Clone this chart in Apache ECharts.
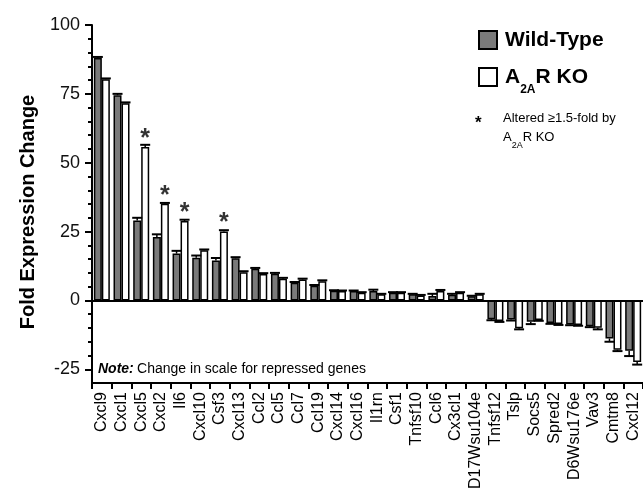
<!DOCTYPE html>
<html>
<head>
<meta charset="utf-8">
<script src="https://cdn.jsdelivr.net/npm/echarts@6/dist/echarts.min.js"></script>
<style>
  html, body { margin: 0; padding: 0; background: #fff; }
  #chart { width: 643px; height: 492px; }
</style>
</head>
<body>
<div id="chart"></div>
<script>
// gene categories, left to right
const categories = ['Cxcl9', 'Cxcl1', 'Cxcl5', 'Cxcl2', 'Il6', 'Cxcl10', 'Csf3', 'Cxcl13', 'Ccl2', 'Ccl5',
  'Ccl7', 'Ccl19', 'Cxcl14', 'Cxcl16', 'Il1rn', 'Csf1', 'Tnfsf10', 'Ccl6', 'Cx3cl1', 'D17Wsu104e',
  'Tnfsf12', 'Tslp', 'Socs5', 'Spred2', 'D6Wsu176e', 'Vav3', 'Cmtm8', 'Cxcl12']

// fold expression change
const wildType = [88, 74.5, 29, 23, 17, 15.5, 14.5, 15.3, 11.5, 9.7,
  6.4, 5.3, 3.5, 3.4, 3.4, 2.8, 2.2, 1.6, 2.1, 1.5,
  -6.8, -6.9, -7.7, -8.2, -8.7, -9.4, -13.8, -18.3]
const knockout = [80.3, 71.6, 55.7, 35.1, 28.8, 18.2, 25, 10.2, 9.6, 7.9,
  7.6, 7.0, 3.4, 2.8, 2.2, 2.8, 1.8, 3.4, 2.8, 2.2,
  -7.5, -10.1, -7.1, -8.6, -8.9, -9.9, -17.9, -22.4]

// error (one side)
const wildTypeErr = [0.4, 0.5, 1, 1, 1, 0.8, 0.9, 0.4, 0.3, 0.3,
  0.3, 0.3, 0.2, 0.2, 0.5, 0.2, 0.2, 0.8, 0.3, 0.2,
  0.4, 0.4, 0.9, 0.3, 0.3, 0.3, 1.2, 1.9]
const knockoutErr = [0.3, 0.3, 0.8, 0.3, 0.5, 0.3, 0.5, 0.4, 0.3, 0.3,
  0.3, 0.3, 0.2, 0.2, 0.2, 0.2, 0.2, 0.4, 0.2, 0.2,
  0.3, 0.4, 0.3, 0.3, 0.3, 0.6, 0.5, 0.9]

// altered >= 1.5 fold by KO
const altered = ['Cxcl5', 'Cxcl2', 'Il6', 'Csf3']

const majorTicks = [-25, 0, 25, 50, 75, 100]
const minorTicks = [-20, -15, -10, -5, 5, 10, 15, 20, 30, 35, 40, 45, 55, 60, 65, 70, 80, 85, 90, 95]

const BAR_W = 8
const FONT = 'Liberation Sans, Arial, sans-serif'

const chart = echarts.init(document.getElementById('chart'))

function errData(vals, errs, side) {
  return vals.map((v, i) => [i, v, errs[i], side])
}

function renderErr(params, api) {
  const v = api.value(1)
  const e = api.value(2)
  const side = api.value(3)
  const dir = v < 0 ? -1 : 1
  const base = api.coord([api.value(0), v])
  const tip = api.coord([api.value(0), v + dir * e])
  const x = base[0] + side * BAR_W / 2
  return {
    type: 'group',
    children: [
      { type: 'line', shape: { x1: x, y1: base[1], x2: x, y2: tip[1] }, style: { stroke: '#000', lineWidth: 1.5 } },
      { type: 'line', shape: { x1: x - 5, y1: tip[1], x2: x + 5, y2: tip[1] }, style: { stroke: '#000', lineWidth: 2 } }
    ]
  }
}

// subscript: main tokens and the small token share the line, the small one sits lower
const legendRich = {
  m: { fontSize: 21, fontWeight: 'bold', color: '#000', fontFamily: FONT, lineHeight: 28, height: 28, verticalAlign: 'bottom' },
  s: { fontSize: 12, fontWeight: 'bold', color: '#000', fontFamily: FONT, lineHeight: 28, height: 2, verticalAlign: 'bottom' }
}

const option = {
  animation: false,
  backgroundColor: '#fff',
  textStyle: { fontFamily: FONT },
  grid: { left: 92, top: 25, width: 552, bottom: 108 },
  legend: {
    orient: 'vertical',
    left: 473,
    top: 21,
    icon: 'rect',
    itemWidth: 18,
    itemHeight: 18,
    itemGap: 9,
    data: ['Wild-Type', 'A2AR KO'],
    formatter: name => name === 'A2AR KO' ? '{m|A}{s|2A}{m|R KO}' : '{m|Wild-Type}',
    textStyle: {
      padding: [0, 0, 0, 3],
      rich: legendRich
    }
  },
  xAxis: {
    type: 'category',
    data: categories,
    axisLine: { onZero: false, lineStyle: { color: '#000', width: 2 } },
    axisTick: { show: true, length: 6, lineStyle: { color: '#000', width: 2 } },
    axisLabel: { interval: 0, rotate: 90, margin: 9, fontSize: 16, color: '#000', fontFamily: FONT },
    splitLine: { show: false }
  },
  yAxis: [{
    type: 'value',
    min: -30,
    max: 100,
    axisLine: { show: true, lineStyle: { color: '#000', width: 2 } },
    axisTick: { show: true, length: 7, customValues: majorTicks, lineStyle: { color: '#000', width: 2 } },
    axisLabel: { customValues: majorTicks, fontSize: 18, color: '#111', margin: 12, fontFamily: FONT },
    splitLine: { show: false }
  }, {
    type: 'value',
    min: -30,
    max: 100,
    position: 'left',
    axisLine: { show: false },
    axisTick: { show: true, length: 4, customValues: minorTicks, lineStyle: { color: '#000', width: 2 } },
    axisLabel: { show: false },
    splitLine: { show: false }
  }],
  series: [{
    name: 'Wild-Type',
    type: 'bar',
    data: wildType,
    barWidth: BAR_W,
    barGap: '0%',
    itemStyle: { color: '#7a7a7a', borderColor: '#000', borderWidth: 1.5 },
    markLine: {
      silent: true,
      symbol: 'none',
      label: { show: false },
      lineStyle: { color: '#000', width: 2, type: 'solid' },
      data: [{ yAxis: 0 }]
    }
  }, {
    name: 'A2AR KO',
    type: 'bar',
    data: knockout,
    barWidth: BAR_W,
    barGap: '0%',
    itemStyle: { color: '#fff', borderColor: '#000', borderWidth: 1.5 }
  }, {
    type: 'custom',
    renderItem: renderErr,
    data: errData(wildType, wildTypeErr, -1),
    z: 3
  }, {
    type: 'custom',
    renderItem: renderErr,
    data: errData(knockout, knockoutErr, 1),
    z: 3
  }, {
    type: 'scatter',
    symbolSize: 0,
    data: altered.map(c => [c, knockout[categories.indexOf(c)]]),
    label: {
      show: true,
      position: 'inside',
      offset: [BAR_W / 2, -8],
      formatter: '*',
      fontSize: 25,
      fontWeight: 'bold',
      color: '#000',
      fontFamily: FONT
    },
    z: 4
  }],
  graphic: [{
    type: 'text',
    x: 28,
    y: 212,
    rotation: Math.PI / 2,
    style: {
      text: 'Fold Expression Change',
      font: 'bold 20px ' + FONT,
      fill: '#000',
      align: 'center',
      verticalAlign: 'middle'
    }
  }, {
    type: 'text',
    x: 98,
    y: 369,
    style: {
      text: '{b|Note:} {r|Change in scale for repressed genes}',
      verticalAlign: 'middle',
      rich: {
        b: { font: 'italic bold 14px ' + FONT, fill: '#000' },
        r: { font: '14px ' + FONT, fill: '#000' }
      }
    }
  }, {
    type: 'text',
    x: 475,
    y: 123,
    style: { text: '*', font: 'bold 17px ' + FONT, fill: '#000', verticalAlign: 'middle' }
  }, {
    type: 'text',
    x: 503,
    y: 118,
    style: { text: 'Altered ≥1.5-fold by', font: '13px ' + FONT, fill: '#000', verticalAlign: 'middle' }
  }, {
    type: 'text',
    x: 503,
    y: 137,
    style: {
      text: '{m|A}{s|2A}{m|R KO}',
      verticalAlign: 'middle',
      rich: {
        m: { font: '13px ' + FONT, fill: '#000', lineHeight: 20, height: 20, verticalAlign: 'bottom' },
        s: { font: '9px ' + FONT, fill: '#000', lineHeight: 20, height: 2, verticalAlign: 'bottom' }
      }
    }
  }]
}

chart.setOption(option)
</script>
</body>
</html>
